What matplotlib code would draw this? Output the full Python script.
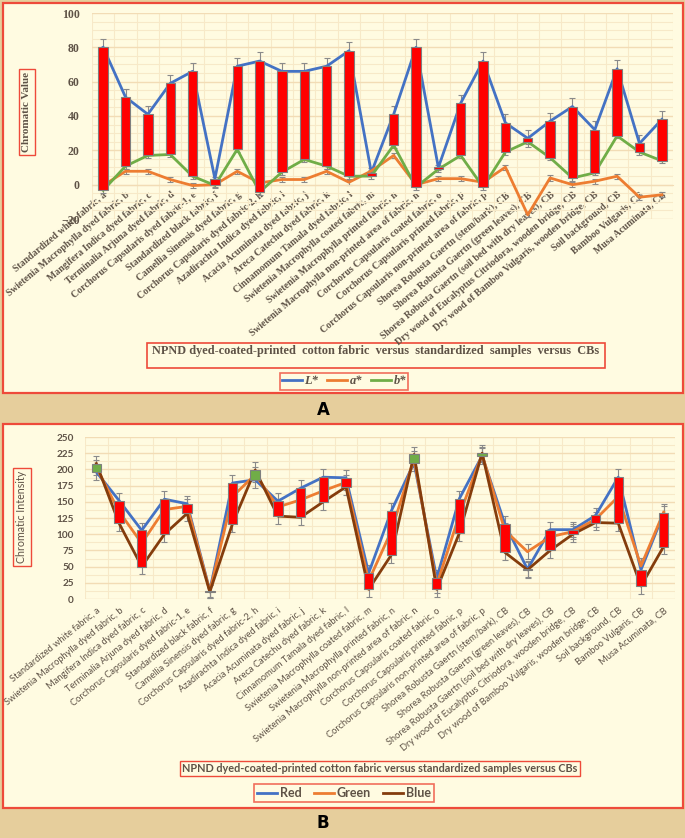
import matplotlib
matplotlib.use("Agg")
import matplotlib.pyplot as plt
from matplotlib.patches import Rectangle
from matplotlib.lines import Line2D
from matplotlib.ticker import MultipleLocator
import numpy as np

W, H = 685, 838

categories = [
    "Standardized white fabric, a",
    "Swietenia Macrophylla dyed fabric, b",
    "Mangifera Indica dyed fabric, c",
    "Terminalia Arjuna dyed fabric, d",
    "Corchorus Capsularis dyed fabric-1, e",
    "Standardized black fabric, f",
    "Camellia Sinensis dyed fabric, g",
    "Corchorus Capsularis dyed fabric-2, h",
    "Azadirachta Indica dyed fabric, i",
    "Acacia Acuminata dyed fabric, j",
    "Areca Catechu dyed fabric, k",
    "Cinnamomum Tamala dyed fabric, l",
    "Swietenia Macrophylla coated fabric, m",
    "Swietenia Macrophylla printed fabric, n",
    "Swietenia Macrophylla non-printed area of fabric, n",
    "Corchorus Capsularis coated fabric, o",
    "Corchorus Capsularis printed fabric, p",
    "Corchorus Capsularis non-printed area of fabric, p",
    "Shorea Robusta Gaertn (stem/bark), CB",
    "Shorea Robusta Gaertn (green leaves), CB",
    "Shorea Robusta Gaertn (soil bed with dry leaves), CB",
    "Dry wood of Eucalyptus Citriodora, wooden bridge, CB",
    "Dry wood of Bamboo Vulgaris, wooden bridge, CB",
    "Soil background, CB",
    "Bamboo Vulgaris, CB",
    "Musa Acuminata, CB",
]

# panel A : CIELab values
L_star = [80, 51, 41, 59, 66, 3.5, 69, 72, 66, 66, 69, 78, 7, 41, 80, 10, 47.5, 72,
          36, 27, 37, 45.5, 32, 67.5, 24, 38]
a_star = [-0.5, 7.8, 7.8, 3, -0.5, 0, 7.8, 1, 3, 3, 7.8, 1.4, 8, 17, 0, 3.5, 3.5, 1.4,
          10.2, -17.6, 3.9, 0, 2, 4.9, -7.3, -5.9]
b_star = [-3.3, 10.8, 17, 17.6, 4.9, -0.4, 20.6, -4.3, 7.3, 14.7, 10.8, 4.9, 5, 23, -1.4, 9, 17, -1.4,
          19, 25, 15.7, 3.9, 6.9, 28.4, 19, 13.9]
L_err = [5, 5, 5, 5, 5, 1, 5, 5, 5, 5, 5, 5, 1.5, 5, 5, 1.5, 5, 5, 5, 5, 5, 5, 5, 5, 5, 5]
ab_err = 1.5

# panel B : RGB values
red_val = [196, 152, 106, 154, 147, 13, 179, 184, 151, 171, 188, 187, 40, 136, 210, 32, 155, 221,
           116, 46, 107, 107, 129, 188, 45, 132]
green_val = [203, 135, 86, 138, 143, 12, 158, 192, 142, 153, 167, 180, 28, 105, 216, 22, 130, 223,
             106, 73, 96, 104, 123, 158, 51, 134]
blue_val = [209, 117, 50, 100, 132, 11, 116, 199, 128, 126, 150, 173, 15, 68, 223, 15, 102, 225,
            72, 45, 75, 100, 118, 117, 20, 81]
rgb_err = [12, 12, 12, 12, 12, 10, 12, 12, 12, 12, 12, 12, 12, 12, 12, 12, 12, 12,
           12, 12, 12, 12, 12, 12, 12, 12]

BG = "#FFFBE1"
TAN = "#E6CE9C"
BORDER = "#EE4A3A"
TXT = "#5E5246"
C_BLUE, C_ORANGE, C_GREEN, C_BROWN = "#4472C4", "#ED7D31", "#70AD47", "#843C0C"
SERIF = "Liberation Serif"
SANS = "Lato"

fig = plt.figure(figsize=(W / 100, H / 100), dpi=100)
fig.patch.set_facecolor(TAN)


def px_rect(x0, y0, x1, y1, **kw):
    # rectangle given in pixel coords (origin top-left), kept under the axes
    r = Rectangle((x0 / W, 1 - y1 / H), (x1 - x0) / W, (y1 - y0) / H,
                  transform=fig.transFigure, zorder=-5, **kw)
    fig.patches.append(r)


def px_axes(x0, y0, x1, y1):
    return fig.add_axes([x0 / W, 1 - y1 / H, (x1 - x0) / W, (y1 - y0) / H])


def style_grid(ax, major, minor):
    ax.set_facecolor(BG)
    for s in ax.spines.values():
        s.set_visible(False)
    ax.yaxis.set_major_locator(MultipleLocator(major))
    ax.yaxis.set_minor_locator(MultipleLocator(minor))
    ax.set_xticks(np.arange(-0.5, len(categories), 0.5), minor=True)
    ax.grid(True, which="major", axis="y", color="#F2DCB5", lw=1.0, zorder=0)
    ax.grid(True, which="minor", axis="both", color="#F7E9C8", lw=0.8, zorder=0)
    ax.set_axisbelow(True)
    ax.tick_params(which="both", length=0)


# panel frames
px_rect(3, 3, 683, 393, fc=BG, ec=BORDER, lw=1.6)
px_rect(3, 424, 683, 808, fc=BG, ec=BORDER, lw=1.6)

x = np.arange(len(categories))

# ---------------- panel A ----------------
axA = px_axes(92, 13, 673, 219)
style_grid(axA, 20, 5)
axA.set_xlim(-0.5, len(categories) - 0.5)
axA.set_ylim(-20, 100)
axA.spines["bottom"].set_visible(True)
axA.spines["bottom"].set_position(("data", 0))
axA.spines["bottom"].set_color("#F2DCB5")

for vals, err, col in [(L_star, L_err, C_BLUE), (a_star, ab_err, C_ORANGE), (b_star, ab_err, C_GREEN)]:
    axA.errorbar(x, vals, yerr=err, fmt="none", ecolor="#8a8a8a", elinewidth=0.8,
                 capsize=2, capthick=0.8, zorder=2)
    axA.plot(x, vals, color=col, lw=2, zorder=3)

L_arr, b_arr = np.array(L_star), np.array(b_star)
axA.bar(x, np.abs(L_arr - b_arr), bottom=np.minimum(L_arr, b_arr), width=0.42,
        color=np.where(b_arr > L_arr, C_GREEN, "#FF0000"), edgecolor="#7F7F7F", lw=0.8, zorder=4)

axA.set_xticks(x)
axA.set_xticklabels(categories, rotation=40, ha="right", va="top", rotation_mode="anchor",
                    fontsize=7, family=SERIF, fontweight="bold", color=TXT)
axA.tick_params(axis="x", pad=4)
for lab in axA.get_yticklabels():
    lab.set_family(SERIF)
    lab.set_fontweight("bold")
    lab.set_fontsize(8.5)
    lab.set_color(TXT)
axA.tick_params(axis="y", pad=9)

fig.text(27 / W, 1 - 112 / H, "Chromatic Value", rotation=90, ha="center", va="center",
         family=SERIF, fontweight="bold", fontsize=8, color=TXT,
         bbox=dict(boxstyle="square,pad=0.3", fc=BG, ec=BORDER, lw=1))

px_rect(147, 343, 605, 368, fc=BG, ec=BORDER, lw=1.2)
fig.text(376 / W, 1 - 351 / H,
         "NPND dyed-coated-printed  cotton fabric  versus  standardized  samples  versus  CBs",
         ha="center", va="center", family=SERIF, fontweight="bold", fontsize=8.8, color=TXT)

hA = [Line2D([], [], color=c, lw=2) for c in (C_BLUE, C_ORANGE, C_GREEN)]
legA = fig.legend(hA, ["L*", "a*", "b*"], loc="center", bbox_to_anchor=(344 / W, 1 - 381 / H),
                  ncol=3, frameon=True, fancybox=False, handlelength=1.6, handletextpad=0.2,
                  columnspacing=0.7, borderpad=0.2,
                  prop=dict(family=SERIF, weight="bold", style="italic", size=9))
legA.get_frame().set_edgecolor(BORDER)
legA.get_frame().set_facecolor(BG)
legA.get_frame().set_linewidth(1.2)
for t in legA.get_texts():
    t.set_color(TXT)

# ---------------- panel B ----------------
axB = px_axes(85, 437, 675, 599)
style_grid(axB, 25, 12.5)
axB.set_xlim(-0.5, len(categories) - 0.5)
axB.set_ylim(0, 250)

for vals, col in [(red_val, C_BLUE), (green_val, C_ORANGE), (blue_val, C_BROWN)]:
    axB.errorbar(x, vals, yerr=rgb_err, fmt="none", ecolor="#8a8a8a", elinewidth=0.8,
                 capsize=2, capthick=0.8, zorder=2)
    axB.plot(x, vals, color=col, lw=2, zorder=3)

r_arr, bl_arr = np.array(red_val), np.array(blue_val)
axB.bar(x, np.maximum(np.abs(r_arr - bl_arr), 1), bottom=np.minimum(r_arr, bl_arr), width=0.42,
        color=np.where(bl_arr > r_arr, C_GREEN, "#FF0000"), edgecolor="#7F7F7F", lw=0.8, zorder=4)

axB.set_xticks(x)
axB.set_xticklabels(categories, rotation=39, ha="right", va="top", rotation_mode="anchor",
                    fontsize=6.65, family=SANS, color=TXT)
axB.tick_params(axis="x", pad=5)
for lab in axB.get_yticklabels():
    lab.set_family(SANS)
    lab.set_fontweight("bold")
    lab.set_fontsize(7.2)
    lab.set_color(TXT)
axB.tick_params(axis="y", pad=8)

fig.text(22 / W, 1 - 517 / H, "Chromatic Intensity", rotation=90, ha="center", va="center",
         family=SANS, fontsize=7.7, color=TXT,
         bbox=dict(boxstyle="square,pad=0.3", fc=BG, ec=BORDER, lw=1))

fig.text(380 / W, 1 - 768.5 / H,
         "NPND dyed-coated-printed cotton fabric versus standardized samples versus CBs",
         ha="center", va="center", family=SANS, fontweight="bold", fontsize=7.8, color=TXT,
         bbox=dict(boxstyle="square,pad=0.2", fc=BG, ec=BORDER, lw=1))

hB = [Line2D([], [], color=c, lw=2) for c in (C_BLUE, C_ORANGE, C_BROWN)]
legB = fig.legend(hB, ["Red", "Green", "Blue"], loc="center", bbox_to_anchor=(344 / W, 1 - 793 / H),
                  ncol=3, frameon=True, fancybox=False, handlelength=1.6, handletextpad=0.2,
                  columnspacing=1.0, borderpad=0.25,
                  prop=dict(family=SANS, weight="bold", size=9))
legB.get_frame().set_edgecolor(BORDER)
legB.get_frame().set_facecolor(BG)
legB.get_frame().set_linewidth(1.2)
for t in legB.get_texts():
    t.set_color(TXT)

# panel letters
fig.text(323 / W, 1 - 410 / H, "A", ha="center", va="center", family="DejaVu Sans",
         fontweight="bold", fontsize=12, color="black")
fig.text(323 / W, 1 - 823 / H, "B", ha="center", va="center", family="DejaVu Sans",
         fontweight="bold", fontsize=12, color="black")

fig.savefig("out.png", dpi=100, facecolor=fig.get_facecolor())
